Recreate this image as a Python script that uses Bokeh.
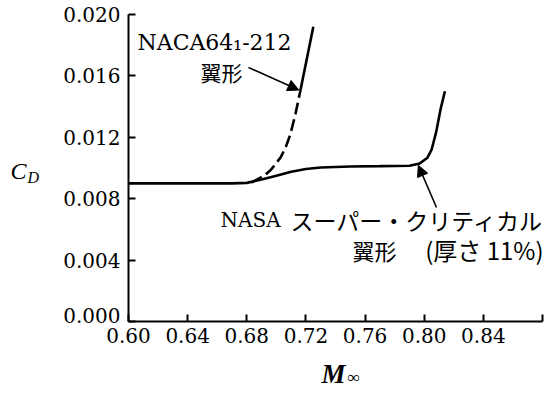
from bokeh.plotting import figure
from bokeh.models import (FixedTicker, Arrow, NormalHead, Label, Range1d,
                          NumeralTickFormatter, LinearAxis)
from bokeh.embed import file_html
from bokeh.resources import INLINE

# ---- data ----
x_ticks = [0.60, 0.64, 0.68, 0.72, 0.76, 0.80, 0.84, 0.88]
x_tick_labels = ["0.60", "0.64", "0.68", "0.72", "0.76", "0.80", "0.84", ""]
y_ticks = [0.000, 0.004, 0.008, 0.012, 0.016, 0.020]
y_tick_labels = ["0.000", "0.004", "0.008", "0.012", "0.016", "0.020"]

# NASA supercritical airfoil (thickness 11%)
nasa_m = [0.600, 0.640, 0.670, 0.680, 0.690, 0.700, 0.710, 0.720, 0.730, 0.750,
          0.770, 0.790, 0.797, 0.802, 0.805, 0.808, 0.811, 0.814]
nasa_cd = [0.00900, 0.00900, 0.00900, 0.00903, 0.00925, 0.00950, 0.00975, 0.00993,
           0.01003, 0.01010, 0.01012, 0.01015, 0.01030, 0.01065, 0.01120, 0.01230,
           0.01380, 0.01500]

# NACA 64_1-212 airfoil: dashed (estimated) part then solid part
naca_dash_m = [0.683, 0.6918, 0.6965, 0.7029, 0.7065, 0.7095, 0.7129, 0.7162]
naca_dash_cd = [0.00905, 0.00950, 0.00990, 0.01069, 0.01140, 0.01220, 0.01351, 0.01502]
naca_solid_m = [0.7162, 0.7250]
naca_solid_cd = [0.01502, 0.01920]

FS = "DejaVu Serif"
TS = "Liberation Serif"
JP = "Noto Sans CJK JP"

W, H = 544, 388
# frame covers the whole canvas; axes are pinned with fixed_location
PX_X0, PX_X1 = 128, 542        # pixel of M=0.60 and M=0.88
PX_Y0, PX_Y1 = 321, 14         # pixel of CD=0 and CD=0.020
ppx = (PX_X1 - PX_X0) / 0.28
ppy = (PX_Y0 - PX_Y1) / 0.020
x_range = Range1d(0.60 - PX_X0 / ppx, 0.60 + (W - PX_X0) / ppx)
y_range = Range1d(-(H - PX_Y0) / ppy, 0.020 + PX_Y1 / ppy)


def sx(px):  # canvas pixel -> data x (for placing annotations)
    return x_range.start + px / ppx


def sy(py):  # canvas pixel -> data y (for placing annotations)
    return y_range.end - py / ppy


p = figure(width=W, height=H, x_range=x_range, y_range=y_range,
           output_backend="svg", toolbar_location=None,
           min_border_left=0, min_border_right=0,
           min_border_top=0, min_border_bottom=0)
p.outline_line_color = None
p.xgrid.visible = False
p.ygrid.visible = False
p.background_fill_color = "white"
p.border_fill_color = "white"


def style_axis(ax):
    ax.axis_line_width = 2
    ax.axis_line_color = "black"
    ax.major_tick_in = 7
    ax.major_tick_out = 0
    ax.major_tick_line_width = 2
    ax.major_tick_line_color = "black"
    ax.minor_tick_line_color = None
    ax.major_label_text_font = FS
    ax.major_label_text_font_size = "20px"
    ax.major_label_text_color = "black"


style_axis(p.xaxis[0])
style_axis(p.yaxis[0])

p.xaxis[0].fixed_location = 0.0
p.xaxis[0].bounds = (0.60, 0.88)
p.xaxis[0].ticker = FixedTicker(ticks=x_ticks)
p.xaxis[0].formatter = NumeralTickFormatter(format="0.00")
p.xaxis[0].major_label_overrides = {t: s for t, s in zip(x_ticks, x_tick_labels)}
p.xaxis[0].major_label_standoff = 6

# the 0.000 label sits a little above its tick in the reference; it is drawn by
# a second, line-less axis whose only label is lifted by 6 px
lift = 6 / ppy
p.yaxis[0].fixed_location = 0.60
p.yaxis[0].bounds = (0.0, 0.020)
p.yaxis[0].ticker = FixedTicker(ticks=y_ticks)
p.yaxis[0].formatter = NumeralTickFormatter(format="0.000")
p.yaxis[0].major_label_overrides = {t: (s if t != y_ticks[0] else "")
                                    for t, s in zip(y_ticks, y_tick_labels)}
p.yaxis[0].major_label_standoff = 8

ax0 = LinearAxis(fixed_location=0.60, ticker=FixedTicker(ticks=[y_ticks[0] + lift]),
                 major_label_overrides={y_ticks[0] + lift: y_tick_labels[0]})
style_axis(ax0)
ax0.axis_line_color = None
ax0.major_tick_line_color = None
ax0.major_label_standoff = 8
p.add_layout(ax0, "left")

# curves
p.line(nasa_m, nasa_cd, line_color="black", line_width=2.6)
p.line(naca_dash_m, naca_dash_cd, line_color="black", line_width=2.6, line_dash="12 5")
p.line(naca_solid_m, naca_solid_cd, line_color="black", line_width=2.6)


def lab(px, py, text, font, size, align="left", style="normal"):
    p.add_layout(Label(x=sx(px), y=sy(py), text=text, text_font=font,
                       text_font_size=size, text_font_style=style,
                       text_baseline="middle", text_align=align, text_color="black"))


# annotations
lab(137, 42, "NACA64\u2081-212", FS, "22px")
lab(200, 71.5, "翼形", JP, "21px")
p.add_layout(Arrow(x_start=sx(248), y_start=sy(67), x_end=0.7152, y_end=0.01508,
                   line_width=1.6, line_color="black",
                   end=NormalHead(size=11, fill_color="black", line_color="black")))

lab(220, 219, "NASA", FS, "20px")
lab(543, 219, "スーパー・クリティカル", JP, "23px", align="right")
lab(352, 249, "翼形", JP, "22px")
lab(543, 249, "(厚さ 11%)", JP, "24px", align="right")
p.add_layout(Arrow(x_start=sx(436), y_start=sy(207), x_end=0.7960, y_end=0.01018,
                   line_width=1.6, line_color="black",
                   end=NormalHead(size=11, fill_color="black", line_color="black")))

# axis titles
lab(10, 170, "C", TS, "24px", style="italic")
lab(27, 177, "D", TS, "16px", style="italic")
lab(321, 373, "M", TS, "27px", style="bold italic")
lab(347, 377, "\u221e", TS, "17px", style="italic")

open("out.html", "w").write(file_html(p, INLINE))
